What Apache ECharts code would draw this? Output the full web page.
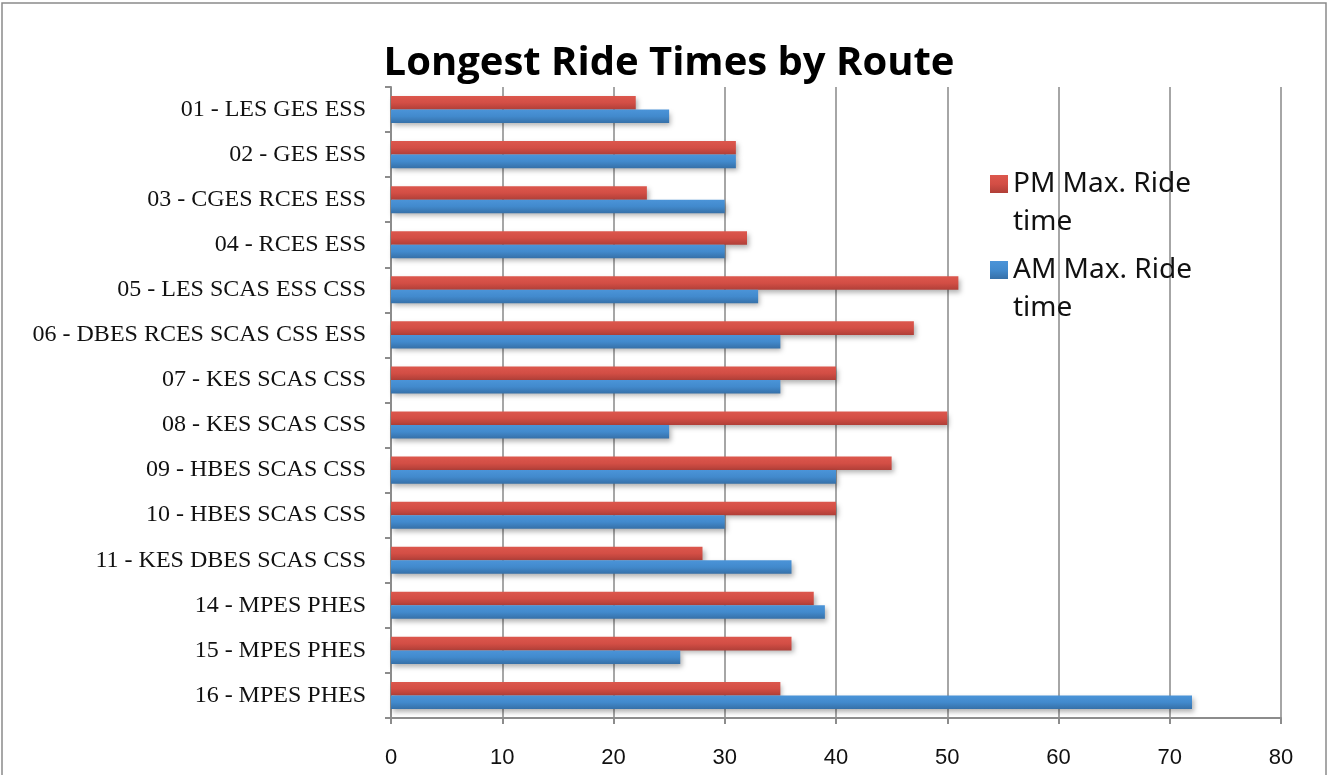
<!DOCTYPE html>
<html>
<head>
<meta charset="utf-8">
<script src="https://cdn.jsdelivr.net/npm/echarts@6/dist/echarts.min.js"></script>
<style>
html,body{margin:0;padding:0;background:#fff;}
#chart{width:1332px;height:775px;}
</style>
</head>
<body>
<div id="chart"></div>
<script>
const categories = [
  '01 - LES GES ESS',
  '02 - GES ESS',
  '03 - CGES RCES ESS',
  '04 - RCES ESS',
  '05 - LES SCAS ESS CSS',
  '06 - DBES RCES SCAS CSS ESS',
  '07 - KES SCAS CSS',
  '08 - KES SCAS CSS',
  '09 - HBES SCAS CSS',
  '10 - HBES SCAS CSS',
  '11 - KES DBES SCAS CSS',
  '14 - MPES PHES',
  '15 - MPES PHES',
  '16 - MPES PHES'
];
const pmMax = [22, 31, 23, 32, 51, 47, 40, 50, 45, 40, 28, 38, 36, 35];
const amMax = [25, 31, 30, 30, 33, 35, 35, 25, 40, 30, 36, 39, 26, 72];
const xTicks = [0, 10, 20, 30, 40, 50, 60, 70, 80];
const seriesNames = ['PM Max. Ride time', 'AM Max. Ride time'];
const legendLabels = ['\nPM Max. Ride\ntime', '\nAM Max. Ride\ntime'];

const redGrad = {type:'linear', x:0, y:0, x2:0, y2:1, colorStops:[
  {offset:0, color:'#dc574d'}, {offset:0.5, color:'#d34e45'}, {offset:1, color:'#b03f38'}]};
const blueGrad = {type:'linear', x:0, y:0, x2:0, y2:1, colorStops:[
  {offset:0, color:'#4b94d8'}, {offset:0.5, color:'#428acd'}, {offset:1, color:'#3670a8'}]};

const chart = echarts.init(document.getElementById('chart'));
const legendText = {fontFamily: 'Noto Sans', fontSize: 28, color: '#111', lineHeight: 38};
chart.setOption({
  animation: false,
  backgroundColor: '#fff',
  title: {
    text: 'Longest Ride Times by Route',
    left: 664, top: 39, textAlign: 'center',
    textStyle: {fontFamily: 'Open Sans', fontWeight: 'bold', fontSize: 40, color: '#000'}
  },
  legend: [
    {
      data: [seriesNames[0]], left: 990, top: 127, itemWidth: 18, itemHeight: 18, padding: 0,
      icon: 'rect', formatter: () => legendLabels[0], textStyle: legendText
    },
    {
      data: [seriesNames[1]], left: 990, top: 213, itemWidth: 18, itemHeight: 18, padding: 0,
      icon: 'rect', formatter: () => legendLabels[1], textStyle: legendText
    }
  ],
  grid: {left: 391, right: 51, top: 87, bottom: 57, containLabel: false},
  xAxis: {
    type: 'value', min: xTicks[0], max: xTicks[xTicks.length - 1], interval: 10,
    axisLine: {show: true, lineStyle: {color: '#8c8c8c', width: 2}},
    axisTick: {show: true, length: 6, lineStyle: {color: '#8c8c8c', width: 2}},
    splitLine: {show: true, lineStyle: {color: '#a6a6a6', width: 2}},
    axisLabel: {margin: 29, fontFamily: 'Liberation Sans', fontSize: 22, color: '#111'}
  },
  yAxis: {
    type: 'category', data: categories, inverse: true,
    axisLine: {show: true, lineStyle: {color: '#8c8c8c', width: 2}},
    axisTick: {show: true, length: 6, lineStyle: {color: '#8c8c8c', width: 2}},
    axisLabel: {margin: 25, fontFamily: 'Liberation Serif', fontSize: 24, color: '#111'}
  },
  graphic: [{
    type: 'rect', shape: {x: 2, y: 3, width: 1324, height: 790},
    style: {fill: 'none', stroke: '#8a8a8a', lineWidth: 1.5}, silent: true
  }],
  series: [
    {
      name: seriesNames[0], type: 'bar', data: pmMax, barGap: '0%', barCategoryGap: '40%',
      itemStyle: {color: redGrad, shadowColor: 'rgba(0,0,0,0.3)', shadowBlur: 5, shadowOffsetX: 2, shadowOffsetY: 3}
    },
    {
      name: seriesNames[1], type: 'bar', data: amMax, barGap: '0%', barCategoryGap: '40%',
      itemStyle: {color: blueGrad, shadowColor: 'rgba(0,0,0,0.3)', shadowBlur: 5, shadowOffsetX: 2, shadowOffsetY: 3}
    }
  ]
});
</script>
</body>
</html>
